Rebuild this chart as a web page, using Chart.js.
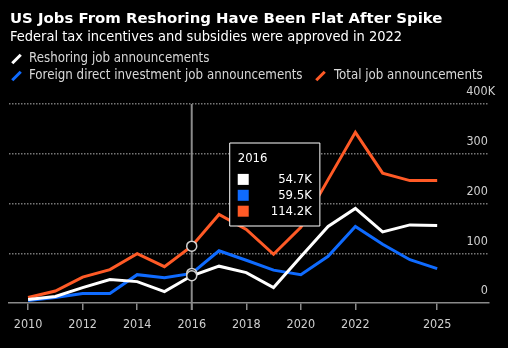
<!DOCTYPE html>
<html>
<head>
<meta charset="utf-8">
<script src="https://cdn.jsdelivr.net/npm/chart.js@4/dist/chart.umd.min.js"></script>
<style>
  html, body { margin: 0; padding: 0; background: #000; }
  #wrap { position: relative; width: 508px; height: 348px; overflow: hidden; background: #000; font-family: "DejaVu Sans Condensed", "DejaVu Sans", sans-serif; }
  #c { position: absolute; left: 0; top: 0; }
  .t { position: absolute; white-space: nowrap; }
  #title { left: 10px; top: 9px; font-family: "DejaVu Sans", sans-serif; font-size: 14.9px; line-height: 18px; font-weight: bold; color: #fff; }
  #sub { left: 10px; top: 28px; font-size: 14.5px; line-height: 16px; color: #fff; }
  .lg { position: absolute; font-size: 13.2px; line-height: 16px; color: #d8d8d8; white-space: nowrap; }
  .mk { position: absolute; width: 3px; height: 12px; transform: rotate(45deg); }
</style>
</head>
<body>
<div id="wrap">
  <canvas id="c" width="508" height="348"></canvas>
  <div class="t" id="title">US Jobs From Reshoring Have Been Flat After Spike</div>
  <div class="t" id="sub">Federal tax incentives and subsidies were approved in 2022</div>
  <div class="mk" style="left:15px; top:53px; background:#fff;"></div>
  <div class="lg" style="left:29px; top:50px;">Reshoring job announcements</div>
  <div class="mk" style="left:15px; top:70px; background:#0f6bff;"></div>
  <div class="lg" style="left:29px; top:67px;">Foreign direct investment job announcements</div>
  <div class="mk" style="left:319px; top:70px; background:#ff5a26;"></div>
  <div class="lg" style="left:334px; top:67px;">Total job announcements</div>
</div>
<script>
const years     = [2010, 2011, 2012, 2013, 2014, 2015, 2016, 2017, 2018, 2019, 2020, 2021, 2022, 2023, 2024, 2025];
const reshoring = [7, 13, 31, 47, 43, 23, 54.7, 74, 61, 31, 93, 154, 190, 143, 157, 156];
const fdi       = [5, 11, 19, 19, 57, 51, 59.5, 105, 86, 66, 57, 94, 154, 118, 87, 69];
const total     = [11, 24, 52, 67, 99, 73, 114.2, 178, 148, 98, 152, 248, 343, 261, 246, 246];
const xTicks    = [2010, 2012, 2014, 2016, 2018, 2020, 2022, 2025];
const yTicks    = [0, 100, 200, 300, 400];
const highlightYear = 2016;

const seriesNames  = ['Reshoring job announcements', 'Foreign direct investment job announcements', 'Total job announcements'];
const seriesColors = ['#ffffff', '#0f6bff', '#ff5a26'];
const seriesValues = [reshoring, fdi, total];
const hiIdx = years.indexOf(highlightYear);

const FONT = '"DejaVu Sans Condensed", "DejaVu Sans", sans-serif';
const TT_PAD = { left: 8, right: 8, top: 8, bottom: 7 };
const TT_TITLE = 13, TT_BODY = 13, TT_MARGIN = 5, TT_SPACING = 0.3, BOX = 11;

Chart.Tooltip.positioners.fixedBox = function () {
  const ch = this.chart;
  const xs = ch.scales.x, ys = ch.scales.y;
  return { x: xs.getPixelForValue(highlightYear) + 38, y: ys.getPixelForValue(400) + 39, xAlign: 'left', yAlign: 'top' };
};

const crosshair = {
  id: 'crosshair',
  beforeDatasetsDraw(chart) {
    const ctx = chart.ctx, xs = chart.scales.x, a = chart.chartArea;
    const x = xs.getPixelForValue(highlightYear);
    ctx.save();
    ctx.strokeStyle = '#8a8a8a';
    ctx.lineWidth = 2;
    ctx.beginPath();
    ctx.moveTo(x, a.top);
    ctx.lineTo(x, a.bottom + 7);
    ctx.stroke();
    ctx.restore();
  },
  afterTooltipDraw(chart, args) {
    const tt = args.tooltip;
    if (!tt || !tt.dataPoints || !tt.opacity) return;
    const ctx = chart.ctx;
    const tLH = TT_TITLE * 1.2, bLH = TT_BODY * 1.2;
    let y = tt.y + TT_PAD.top + tLH + TT_MARGIN;
    const x = tt.x + TT_PAD.left;
    ctx.save();
    tt.dataPoints.forEach(dp => {
      const cy = y + (bLH - BOX) / 2;
      ctx.fillStyle = '#000';
      ctx.fillRect(x - 1.5, cy - 1.5, BOX + 3, BOX + 3);
      ctx.fillStyle = seriesColors[dp.datasetIndex];
      ctx.fillRect(x, cy, BOX, BOX);
      y += bLH + TT_SPACING;
    });
    ctx.restore();
  }
};

const datasets = seriesValues.map((vals, d) => ({
  label: seriesNames[d],
  data: years.map((yr, i) => ({ x: yr, y: vals[i] })),
  borderColor: seriesColors[d],
  backgroundColor: seriesColors[d],
  borderWidth: 3,
  tension: 0,
  pointRadius: ctx => ctx.dataIndex === hiIdx ? 5 : 0,
  pointHoverRadius: ctx => ctx.dataIndex === hiIdx ? 5 : 0,
  pointBackgroundColor: '#000',
  pointBorderColor: '#d0d0d0',
  pointBorderWidth: 1.5,
  pointHoverBackgroundColor: '#000',
  pointHoverBorderColor: '#d0d0d0',
  pointHoverBorderWidth: 1.5
}));

const chart = new Chart(document.getElementById('c'), {
  type: 'line',
  data: { datasets },
  plugins: [crosshair],
  options: {
    responsive: false,
    animation: false,
    events: [],
    layout: { padding: { left: 9, right: 7, top: 104, bottom: 9 } },
    plugins: {
      legend: { display: false },
      title: { display: false },
      tooltip: {
        enabled: true,
        position: 'fixedBox',
        backgroundColor: '#000',
        borderColor: '#ffffff',
        borderWidth: 1,
        cornerRadius: 0,
        caretSize: 0,
        caretPadding: 0,
        padding: TT_PAD,
        titleFont: { family: FONT, size: TT_TITLE, weight: 'normal' },
        titleColor: '#fff',
        titleMarginBottom: TT_MARGIN,
        bodyFont: { family: FONT, size: TT_BODY },
        bodyColor: '#fff',
        bodyAlign: 'right',
        bodySpacing: TT_SPACING,
        boxWidth: BOX,
        boxHeight: BOX,
        boxPadding: 20,
        multiKeyBackground: '#000',
        callbacks: {
          title: items => String(items[0].parsed.x),
          label: item => item.parsed.y.toFixed(1) + 'K',
          labelColor: item => ({ borderColor: seriesColors[item.datasetIndex], backgroundColor: seriesColors[item.datasetIndex] })
        }
      }
    },
    scales: {
      x: {
        type: 'linear',
        min: 2009.3,
        max: 2026.9,
        afterBuildTicks: axis => { axis.ticks = xTicks.map(v => ({ value: v })); },
        ticks: {
          color: '#cfcfcf',
          font: { family: FONT, size: 12.5 },
          padding: 7,
          maxRotation: 0,
          autoSkip: false,
          callback: v => String(v)
        },
        grid: { display: true, drawOnChartArea: false, drawTicks: true, tickLength: 7, color: '#8a8a8a', lineWidth: 1.5 },
        border: { display: true, color: '#8a8a8a', width: 1.5 }
      },
      y: {
        type: 'linear',
        position: 'right',
        min: 0,
        max: 400,
        afterBuildTicks: axis => { axis.ticks = yTicks.map(v => ({ value: v })); },
        ticks: {
          mirror: true,
          padding: 6,
          labelOffset: -12,
          color: '#cfcfcf',
          font: { family: FONT, size: 12.5 },
          callback: v => v === 400 ? '400K' : String(v) + '  '
        },
        grid: {
          drawTicks: false,
          color: ctx => ctx.tick && ctx.tick.value === 0 ? 'rgba(0,0,0,0)' : '#777',
          lineWidth: 1.5
        },
        border: { display: false, dash: [1.5, 1.5] }
      }
    }
  }
});

chart.tooltip.setActiveElements(seriesValues.map((v, d) => ({ datasetIndex: d, index: hiIdx })), { x: 0, y: 0 });
chart.update();
</script>
</body>
</html>
